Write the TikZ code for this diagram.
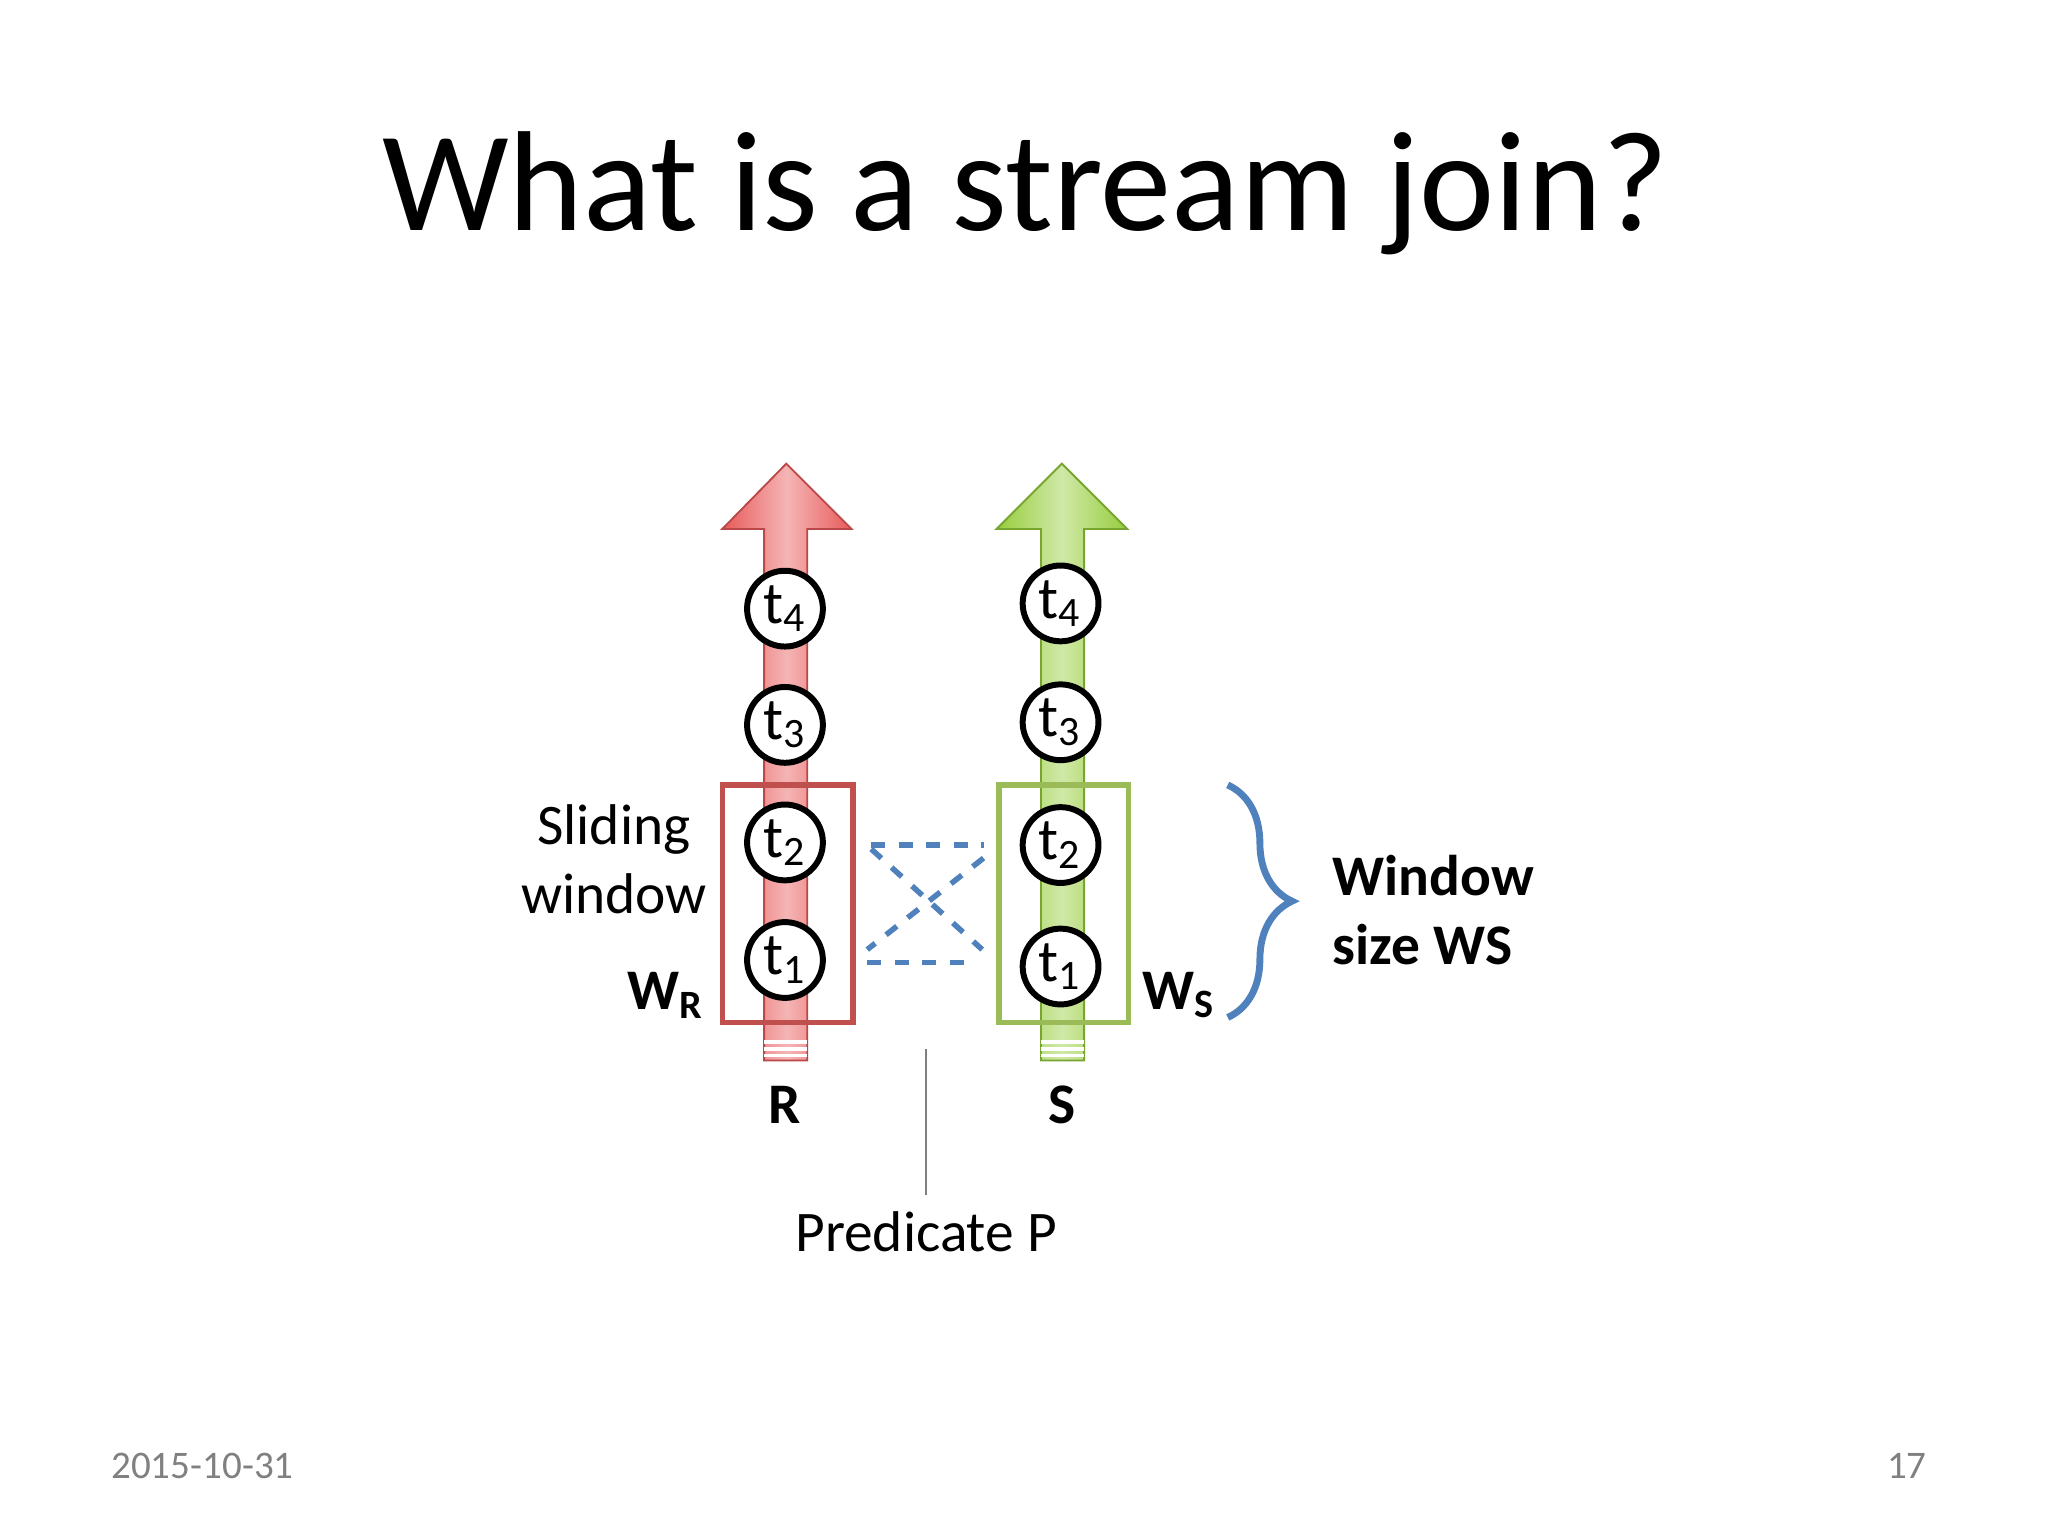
\documentclass[tikz,border=0pt]{standalone}
\usepackage{fontspec}
\setmainfont{Carlito}
\usetikzlibrary{decorations.pathreplacing}
\definecolor{rarrow}{RGB}{232,90,90}
\definecolor{garrow}{RGB}{150,205,60}
\definecolor{rbox}{RGB}{192,80,77}
\definecolor{gbox}{RGB}{155,187,89}
\definecolor{wsblue}{RGB}{79,129,189}
\begin{document}
\begin{tikzpicture}[x=0.01cm,y=-0.01cm,
    tup/.style={draw, circle, line width=1.3pt, fill=white, minimum size=0.58cm, inner sep=0pt, font=\fontsize{13}{13}\selectfont},
    lbl/.style={font=\fontsize{12.5}{15}\selectfont, align=center},
    blbl/.style={lbl, font=\fontsize{12.5}{15}\selectfont\bfseries},
    win/.style={line width=1.2pt},
    pred/.style={dashed, wsblue, line width=1.2pt}
]
\useasboundingbox (0,0) rectangle (1568,1176);

% Title
\node[font=\fontsize{31}{31}\selectfont] (title) at (785,148) {What is a stream join?};

% --- Arrows ---
\shade[left color=rarrow, right color=rarrow, middle color=rarrow!45, draw=rarrow!80!black, line width=0.4pt]
  (585,812) -- (585,405) -- (553,405) -- (602,355) -- (652,405) -- (618,405) -- (618,812) -- cycle;
\shade[left color=garrow, right color=garrow, middle color=garrow!45, draw=garrow!80!black, line width=0.4pt]
  (797,812) -- (797,405) -- (763,405) -- (813,355) -- (863,405) -- (830,405) -- (830,812) -- cycle;
\foreach \y in {798,803,808}{
  \draw[white, line width=0.8pt] (585,\y) -- (618,\y);
  \draw[white, line width=0.8pt] (797,\y) -- (830,\y);
}

% --- Windows ---
\draw[win, rbox] (553,601) rectangle (653,783);
\draw[win, gbox] (765,601) rectangle (864,783);

% --- Tuples ---
\foreach \i/\y in {4/466,3/555,2/645,1/735}
  \node[tup] (r\i) at (601,\y) {t\textsubscript{\i}};
\foreach \i/\y in {4/462,3/553,2/647,1/740}
  \node[tup] (s\i) at (812,\y) {t\textsubscript{\i}};

% --- Predicate ---
\draw[pred] (667,647) -- (753,647);
\draw[pred] (664,737) -- (748,737);
\draw[pred] (667,650) -- (752,727);
\draw[pred] (753,657) -- (664,727);

% --- Labels ---
\node[lbl] (slide) at (470,658) {Sliding\\window};
\node[blbl] (wr) at (510,762) {W\textsubscript{R}};
\node[blbl] (ws) at (903,762) {W\textsubscript{S}};
\node[blbl] (rname) at (601,846) {R};
\node[blbl] (sname) at (813,846) {S};

\coordinate (ptop) at (709,803);
\node[lbl] (predp) at (709,943) {Predicate P};
\draw[gray, line width=0.6pt] (ptop) -- (predp.north);

% --- Window size ---
\draw[wsblue, line width=1.5pt, decorate, decoration={brace, amplitude=14pt}]
  (940,601) -- (940,779);
\node[blbl, align=left, anchor=west] (wsize) at (1008,697) {Window\\size WS};

% Footer
\node[font=\fontsize{8.5}{10}\selectfont, text=gray] (date) at (155,1122) {2015-10-31};
\node[font=\fontsize{8.5}{10}\selectfont, text=gray] (page) at (1460,1122) {17};
\end{tikzpicture}
\end{document}
